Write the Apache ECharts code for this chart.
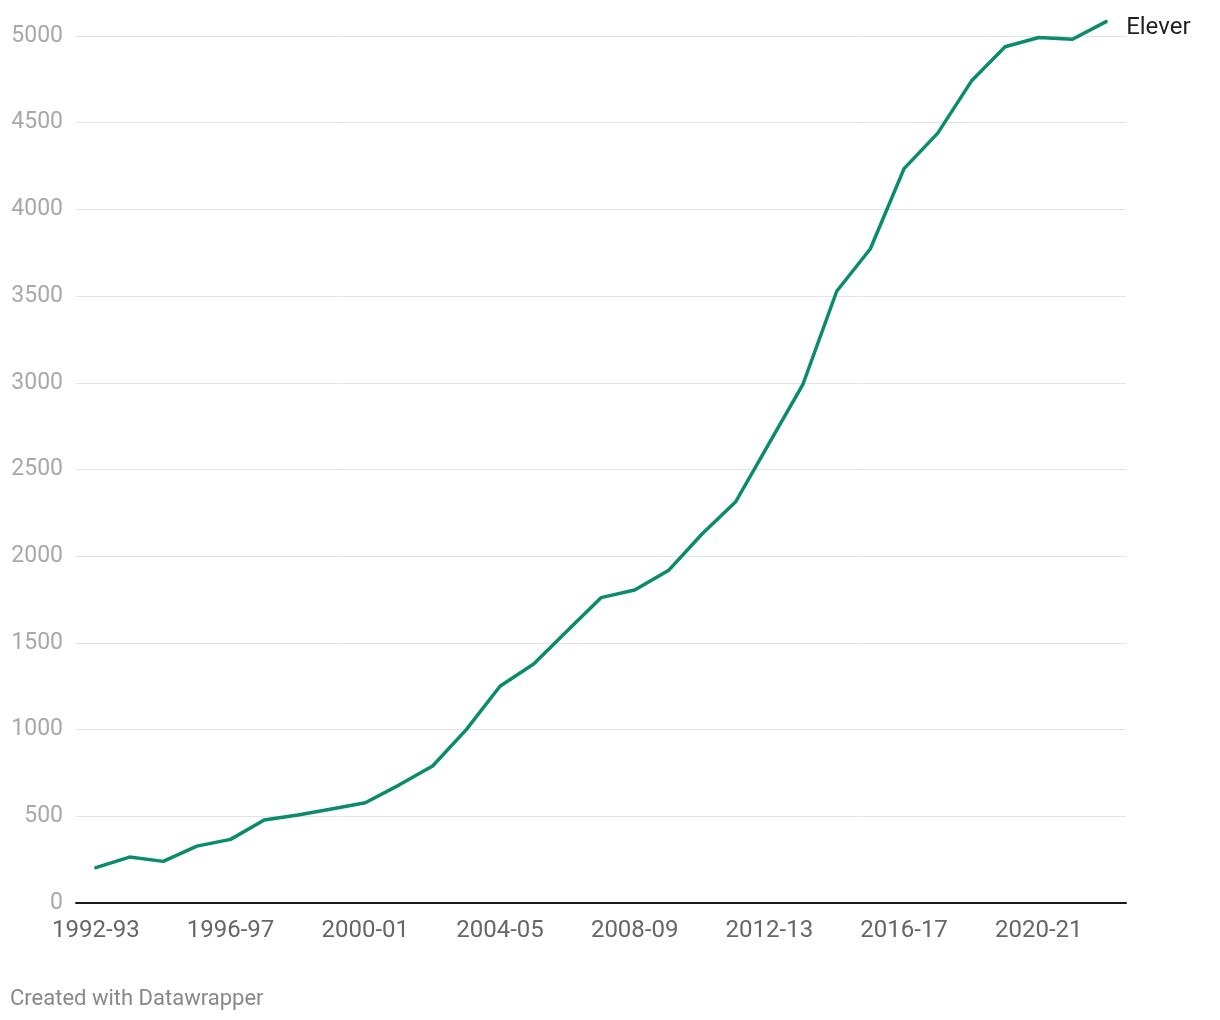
<!DOCTYPE html>
<html>
<head>
<meta charset="utf-8">
<script src="https://cdn.jsdelivr.net/npm/echarts@6/dist/echarts.min.js"></script>
<style>
html,body{margin:0;padding:0;background:#fff;}
#chart{width:1220px;height:1020px;}
</style>
</head>
<body>
<div id="chart"></div>
<script>
const categories = ["1992-93","1993-94","1994-95","1995-96","1996-97","1997-98","1998-99","1999-00","2000-01","2001-02","2002-03","2003-04","2004-05","2005-06","2006-07","2007-08","2008-09","2009-10","2010-11","2011-12","2012-13","2013-14","2014-15","2015-16","2016-17","2017-18","2018-19","2019-20","2020-21","2021-22","2022-23"];
const elever = [204,265,240,328,367,479,508,542,578,680,790,1000,1250,1378,1570,1761,1805,1917,2128,2314,2653,2993,3528,3773,4235,4440,4740,4938,4991,4981,5083];
const xTickIndexes = [0,4,8,12,16,20,24,28];
const yTicks = [0,500,1000,1500,2000,2500,3000,3500,4000,4500,5000];
const seriesName = "Elever";

const chart = echarts.init(document.getElementById('chart'), null, {renderer:'canvas'});
const font = 'Roboto, "Noto Sans", sans-serif';
chart.setOption({
  animation:false,
  backgroundColor:'#ffffff',
  textStyle:{fontFamily:font},
  grid:{left:76,right:94,top:36,bottom:117,containLabel:false},
  graphic:[{
    type:'text', left:10, top:988,
    style:{text:'Created with Datawrapper', fill:'#888888', font:'22px '+font}
  }],
  xAxis:{
    type:'value', min:-0.59, max:30.59,
    splitLine:{show:false},
    axisTick:{show:false},
    axisLine:{show:true, onZero:false, lineStyle:{color:'#1a1a1a', width:2}},
    axisLabel:{
      customValues:xTickIndexes,
      formatter:(v)=>categories[Math.round(v)],
      color:'#666666', fontSize:24, fontFamily:font, margin:16
    }
  },
  yAxis:{
    type:'value', min:0, max:5000, interval:500,
    axisLine:{show:false}, axisTick:{show:false},
    splitLine:{show:true, lineStyle:{color:'#e3e3e3', width:1}},
    axisLabel:{color:'#a8a8a8', fontSize:23, fontFamily:font, margin:13,
      padding:[2,0,0,0],
      formatter:(v)=> yTicks.includes(v) ? String(v) : ''}
  },
  series:[{
    name:seriesName,
    type:'line',
    clip:false,
    symbol:'none',
    data:elever.map((v,i)=>[i,v]),
    lineStyle:{color:'#0a8c6c', width:3.5, cap:'round', join:'round'},
    itemStyle:{color:'#0a8c6c'},
    endLabel:{show:true, formatter:seriesName, color:'#1f1f1f', fontSize:24, fontFamily:font, offset:[12,6]}
  }]
});
</script>
</body>
</html>
